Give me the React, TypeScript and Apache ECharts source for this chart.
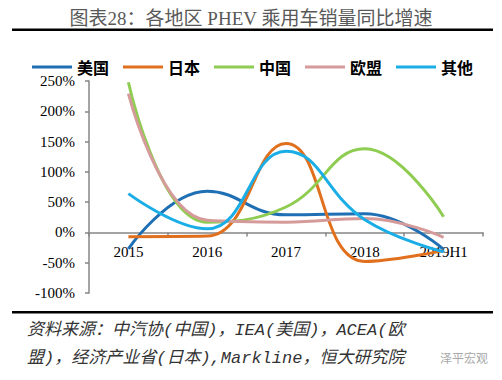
import React, { useEffect, useRef } from "react";
import * as echarts from "echarts";

const categories = ["2015", "2016", "2017", "2018", "2019H1"];
const seriesNames = ["美国", "日本", "中国", "欧盟", "其他"];
const usValues = [-27, 68, 29, 31, -28];
const japanValues = [-7, -6, 147, -48, -30];
const chinaValues = [248, 17, 42, 138, 26];
const euValues = [229, 20, 17, 23, -8];
const otherValues = [64, 6, 134, 21, -32];
const colors = ["#1F6FB4", "#E0701E", "#8FCC52", "#D59A9A", "#1BAEE6"];
const yTicks = { min: -100, max: 250, interval: 50 };

const titleText = "图表28：各地区 PHEV 乘用车销量同比增速";
const sourceLine1 = "资料来源：中汽协(中国)，IEA(美国)，ACEA(欧";
const sourceLine2 = "盟)，经济产业省(日本),Markline，恒大研究院";

export default function App() {
  const ref = useRef<HTMLDivElement>(null);
  useEffect(() => {
    document.body.style.margin = "0";
    if (!ref.current) return;
    const chart = echarts.init(ref.current, null, { renderer: "svg" });
    const allValues = [usValues, japanValues, chinaValues, euValues, otherValues];
    const serif = "'Liberation Serif', 'Times New Roman', 'Noto Sans CJK SC', serif";
    const gridTop = 81;
    const gridBottom = 87;
    const plotH = 380 - gridTop - gridBottom;
    const zeroOffset = -((0 - yTicks.min) / (yTicks.max - yTicks.min)) * plotH;
    const srcFont = "italic 17px 'Liberation Mono', 'Noto Sans CJK SC', monospace";
    chart.setOption({
      animation: false,
      backgroundColor: "#ffffff",
      title: {
        text: titleText,
        left: "center",
        top: 4,
        textStyle: { fontSize: 19, fontWeight: "normal", color: "#595959", fontFamily: serif },
      },
      legend: {
        left: 32,
        top: 59,
        padding: 0,
        itemWidth: 40,
        itemHeight: 3,
        itemGap: 14,
        icon: "rect",
        data: seriesNames,
        textStyle: { fontSize: 16, fontWeight: "bold", color: "#000", fontFamily: "'Noto Sans CJK SC', sans-serif" },
      },
      grid: { left: 89, right: 19, top: gridTop, bottom: gridBottom },
      xAxis: {
        type: "category",
        data: categories,
        boundaryGap: true,
        offset: zeroOffset,
        axisLine: { onZero: false, lineStyle: { color: "#868686", width: 1.5 } },
        axisTick: { show: true, length: 4, lineStyle: { color: "#868686", width: 1.5 } },
        axisLabel: { fontSize: 15, color: "#000", fontFamily: serif, margin: 12 },
        splitLine: { show: false },
      },
      yAxis: {
        type: "value",
        min: yTicks.min,
        max: yTicks.max,
        interval: yTicks.interval,
        axisLine: { show: true, lineStyle: { color: "#868686", width: 1.5 } },
        axisTick: { show: true, length: 4, lineStyle: { color: "#868686", width: 1.5 } },
        axisLabel: { fontSize: 15, color: "#000", fontFamily: serif, margin: 14, formatter: "{value}%" },
        splitLine: { show: false },
      },
      series: seriesNames.map((name, i) => ({
        name,
        type: "line",
        data: allValues[i],
        smooth: 0.45,
        showSymbol: false,
        symbol: "none",
        lineStyle: { color: colors[i], width: 3 },
        itemStyle: { color: colors[i] },
      })),
      graphic: [
        { type: "rect", shape: { x: 12, y: 28.5, width: 481, height: 2.5 }, style: { fill: "#000" } },
        { type: "rect", shape: { x: 12, y: 311, width: 481, height: 2.5 }, style: { fill: "#000" } },
        { type: "text", x: 27, y: 330, style: { text: sourceLine1, fill: "#333", font: srcFont, verticalAlign: "middle" } },
        { type: "text", x: 27, y: 358, style: { text: sourceLine2, fill: "#333", font: srcFont, verticalAlign: "middle" } },
        { type: "text", x: 440, y: 357, style: { text: "泽平宏观", fill: "#a8a8a8", font: "12px 'Noto Sans CJK SC', sans-serif", verticalAlign: "middle" } },
      ],
    });
    return () => chart.dispose();
  }, []);
  return <div ref={ref} style={{ width: 502, height: 380 }} />;
}
